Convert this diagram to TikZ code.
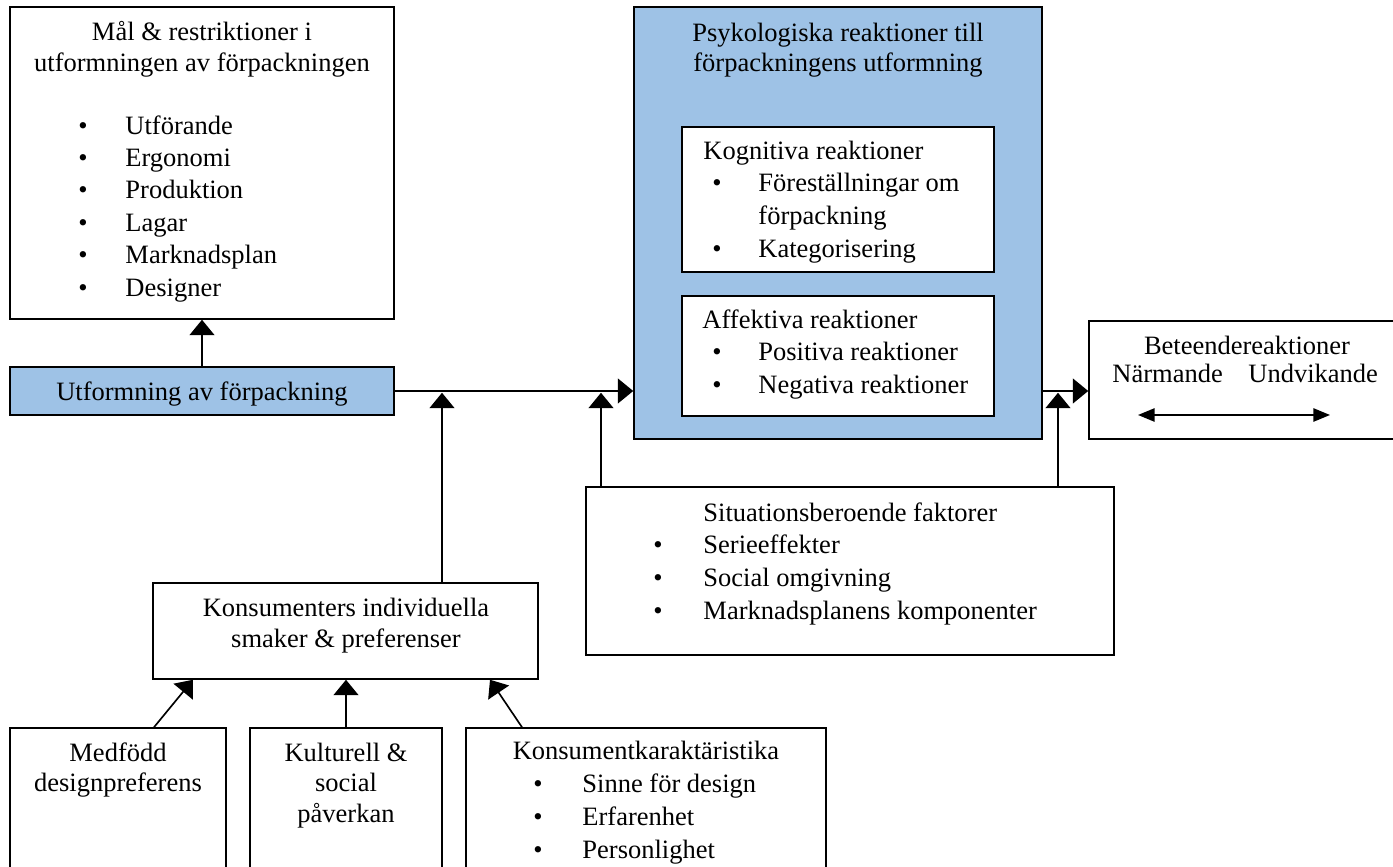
\documentclass[tikz,border=0pt]{standalone}
\usepackage{fontspec}
\setmainfont{Liberation Serif}
\usetikzlibrary{arrows.meta,fit,calc}
\definecolor{boxblue}{RGB}{158,194,230}
\tikzset{
  px/.style={x=0.4528pt,y=-0.4528pt},
  box/.style={draw=black,line width=0.7pt,fill=white,inner sep=0pt,rectangle},
  bluebox/.style={box,fill=boxblue},
  txt/.style={inner sep=0pt,anchor=base,font=\fontsize{12pt}{13.8pt}\selectfont},
  ltxt/.style={txt,anchor=base west},
  conn/.style={line width=0.75pt,-{Triangle[length=7pt,width=11.3pt]}},
  plain/.style={line width=0.75pt},
  dbl/.style={line width=0.75pt,{Triangle[length=7.5pt,width=6pt]}-{Triangle[length=7.5pt,width=6pt]}},
}
\begin{document}
\begin{tikzpicture}[px]
\useasboundingbox (0,0) rectangle (1393,867);
\clip (0,0) rectangle (1393,867);

% ---- boxes
\node[box,fit={(10,7) (394,319)}] (A) {};
\node[bluebox,fit={(10,367) (394,415)}] (U) {};
\node[bluebox,fit={(634,7) (1042,439)}] (P) {};
\node[box,fit={(682,127) (994,272)}] (K) {};
\node[box,fit={(682,296) (994,416)}] (F) {};
\node[box,fit={(1089,321) (1400,439)}] (B) {};
\node[box,fit={(586,487) (1114,655)}] (S) {};
\node[box,fit={(153,583) (538,679)}] (KI) {};
\node[box,fit={(10,728) (226,900)}] (Med) {};
\node[box,fit={(250,728) (442,900)}] (Kul) {};
\node[box,fit={(466,728) (826,900)}] (Kon) {};

% ---- box A text
\node[txt] (a1) at (202,41) {Mål \& restriktioner i};
\node[txt] (a2) at (202,72) {utformningen av förpackningen};
\node[txt] (ab1) at (83,135) {•};   \node[ltxt] (at1) at (125,135) {Utförande};
\node[txt] (ab2) at (83,167) {•};   \node[ltxt] (at2) at (125,167) {Ergonomi};
\node[txt] (ab3) at (83,199) {•};   \node[ltxt] (at3) at (125,199) {Produktion};
\node[txt] (ab4) at (83,232) {•};   \node[ltxt] (at4) at (125,232) {Lagar};
\node[txt] (ab5) at (83,264) {•};   \node[ltxt] (at5) at (125,264) {Marknadsplan};
\node[txt] (ab6) at (83,297) {•};   \node[ltxt] (at6) at (125,297) {Designer};

% ---- box U text
\node[txt] (u1) at (202,401) {Utformning av förpackning};

% ---- box P text
\node[txt] (p1) at (838,42) {Psykologiska reaktioner till};
\node[txt] (p2) at (838,72) {förpackningens utformning};
\node[ltxt] (k0) at (703,160) {Kognitiva reaktioner};
\node[txt] (kb1) at (717,192) {•}; \node[ltxt] (kt1) at (758,192) {Föreställningar om};
\node[ltxt] (kt1b) at (758,225) {förpackning};
\node[txt] (kb2) at (717,258) {•}; \node[ltxt] (kt2) at (758,258) {Kategorisering};
\node[ltxt] (f0) at (702,329) {Affektiva reaktioner};
\node[txt] (fb1) at (717,361) {•}; \node[ltxt] (ft1) at (758,361) {Positiva reaktioner};
\node[txt] (fb2) at (717,394) {•}; \node[ltxt] (ft2) at (758,394) {Negativa reaktioner};

% ---- box B text
\node[txt] (b1) at (1247,355) {Beteendereaktioner};
\node[ltxt] (b2) at (1112,383) {Närmande};
\node[ltxt] (b3) at (1248,383) {Undvikande};
\coordinate (d1) at (1138,415);
\coordinate (d2) at (1330,415);

% ---- box S text
\node[ltxt] (s0) at (703,522) {Situationsberoende faktorer};
\node[txt] (sb1) at (658,554) {•}; \node[ltxt] (st1) at (703,554) {Serieeffekter};
\node[txt] (sb2) at (658,587) {•}; \node[ltxt] (st2) at (703,587) {Social omgivning};
\node[txt] (sb3) at (658,620) {•}; \node[ltxt] (st3) at (703,620) {Marknadsplanens komponenter};

% ---- box KI text
\node[txt] (ki1) at (346,617) {Konsumenters individuella};
\node[txt] (ki2) at (346,648) {smaker \& preferenser};

% ---- bottom boxes text
\node[txt] (m1) at (118,762) {Medfödd};
\node[txt] (m2) at (118,792) {designpreferens};
\node[txt] (c1) at (346,762) {Kulturell \&};
\node[txt] (c2) at (346,792) {social};
\node[txt] (c3) at (346,822) {påverkan};
\node[txt] (o0) at (646,760) {Konsumentkaraktäristika};
\node[txt] (ob1) at (538,793) {•}; \node[ltxt] (ot1) at (582,793) {Sinne för design};
\node[txt] (ob2) at (538,825) {•}; \node[ltxt] (ot2) at (582,825) {Erfarenhet};
\node[txt] (ob3) at (538,858) {•}; \node[ltxt] (ot3) at (582,858) {Personlighet};

% ---- junction coordinates on the main line
\coordinate (j1) at (442,391);
\coordinate (j2) at (601,391);
\coordinate (j3) at (1058,391);

% ---- connectors
\draw[conn] (U.north) -- (A.south);
\draw[conn] (U.east) -- (U.east -| P.west);
\draw[conn] (KI.north -| j1) -- ([yshift=-0.8pt]j1);
\draw[conn] (S.north -| j2) -- ([yshift=-0.8pt]j2);
\draw[conn] (S.north -| j3) -- ([yshift=-0.8pt]j3);
\draw[conn] (P.east |- j3) -- (B.west |- j3);
\draw[dbl] (d1) -- (d2);
\draw[conn] ($(Med.north)+(36,0)$) -- ($(KI.south)+(-152.5,0)$);
\draw[conn] (Kul.north) -- (Kul.north |- KI.south);
\draw[conn] ($(Kon.north)+(-124,0)$) -- ($(KI.south)+(144.5,0)$);
\end{tikzpicture}
\end{document}
